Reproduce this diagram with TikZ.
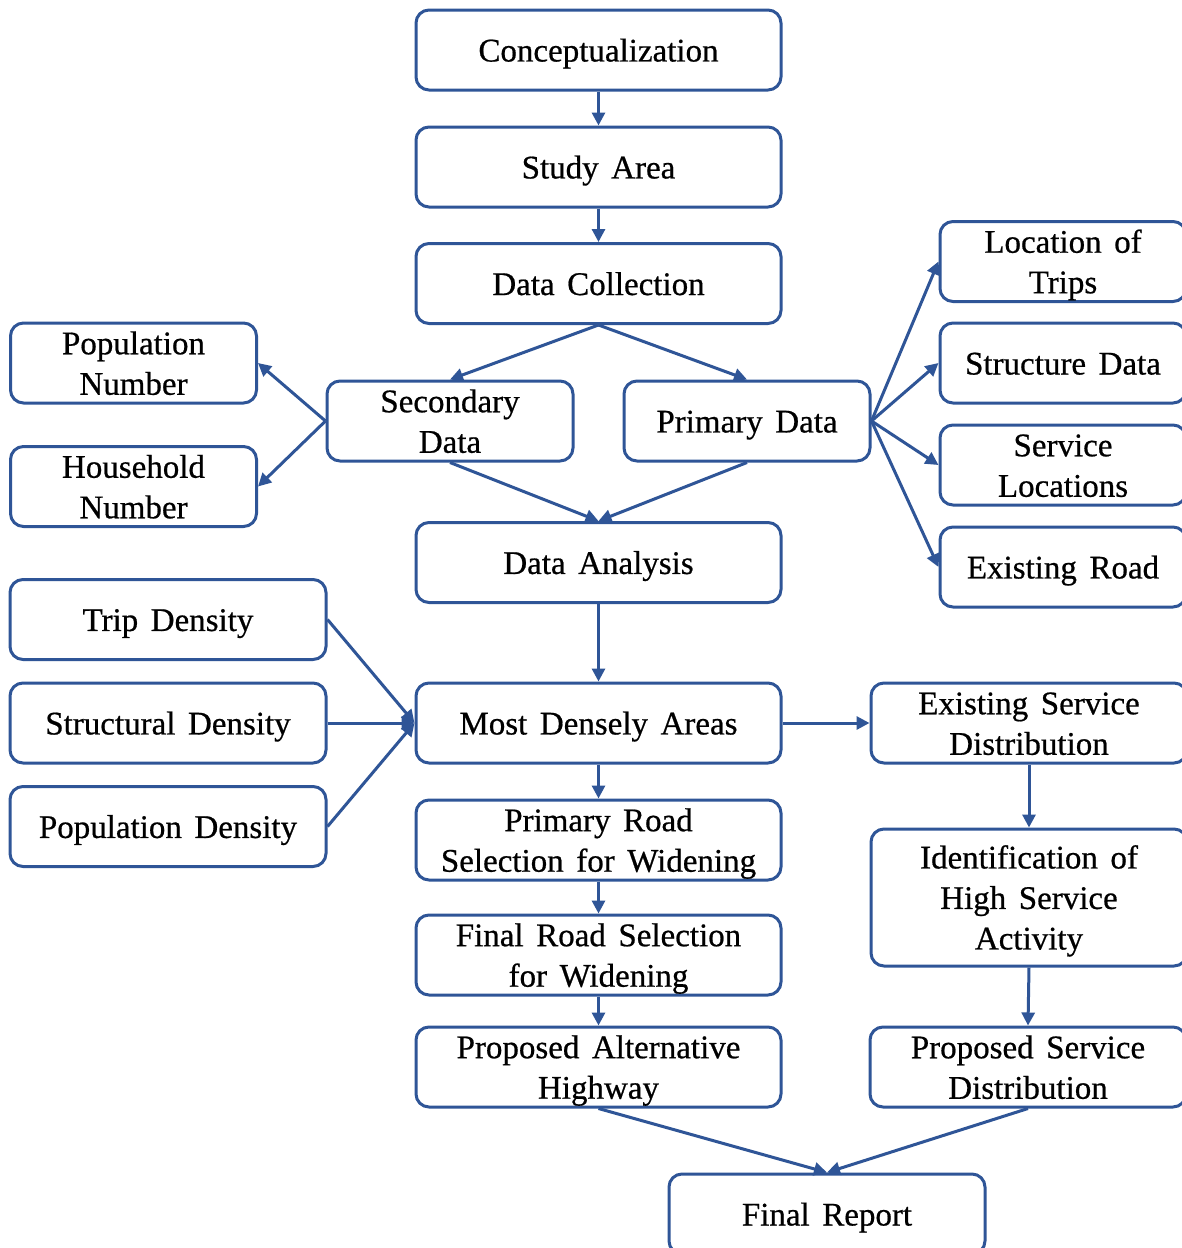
\documentclass[tikz,border=0pt]{standalone}
\usepackage{fontspec}
\newfontfamily\tnr{Liberation Serif}[FakeBold=0.6]
\usetikzlibrary{arrows.meta}
\definecolor{boxblue}{HTML}{2F5597}
\newcommand\diagfont{\tnr\fontsize{33}{40.5}\selectfont\spaceskip=0.38em plus 0.1em minus 0.05em\relax}
\newcommand\sr{\rule[-7pt]{0pt}{37pt}}
\begin{document}
\begin{tikzpicture}[x=1pt,y=-1pt,
  box/.style={draw=boxblue, line width=3pt, rectangle, rounded corners=13pt,
    inner sep=0pt, align=center, text=black, font=\diagfont},
  wide/.style={box, minimum width=365pt, minimum height=80pt},
  mid/.style={box, minimum width=316pt, minimum height=80pt},
  small/.style={box, minimum width=246pt, minimum height=80pt},
  conn/.style={draw=boxblue, line width=3pt, -{Triangle[length=13pt,width=13pt]}}]
\useasboundingbox[fill=white] (0,0) rectangle (1182,1248);
% central column
\node[wide] (conc) at (598.5,50) {\sr Conceptualization};
\node[wide] (study) at (598.5,167) {\sr Study Area};
\node[wide] (coll) at (598.5,283.5) {\sr Data Collection};
\node[small] (sec) at (450,421) {\sr Secondary\\\sr Data};
\node[small] (prim) at (747,421) {\sr Primary Data};
\node[wide] (anal) at (598.5,562.5) {\sr Data Analysis};
\node[wide] (dense) at (598.5,723) {\sr Most Densely Areas};
\node[wide] (proad) at (598.5,840) {\sr Primary Road\\\sr Selection for Widening};
\node[wide] (froad) at (598.5,955) {\sr Final Road Selection\\\sr for Widening};
\node[wide] (palt) at (598.5,1067) {\sr Proposed Alternative\\\sr Highway};
\node[mid] (final) at (827,1214) {\sr Final Report};
% left
\node[small] (popn) at (133.5,363) {\sr Population\\\sr Number};
\node[small] (hhn) at (133.5,486.5) {\sr Household\\\sr Number};
\node[mid] (trip) at (168,619.5) {\sr Trip Density};
\node[mid] (struc) at (168,723) {\sr Structural Density};
\node[mid] (popd) at (168,826.5) {\sr Population Density};
% right
\node[small] (loc) at (1063,261.5) {\sr Location of\\\sr Trips};
\node[small] (sdata) at (1063,363) {\sr Structure Data};
\node[small] (serv) at (1063,465) {\sr Service\\\sr Locations};
\node[small] (road) at (1063,567) {\sr Existing Road};
\node[mid] (esd) at (1029,723) {\sr Existing Service\\\sr Distribution};
\node[mid, minimum height=137pt] (ident) at (1029,897.5) {\sr Identification of\\\sr High Service\\\sr Activity};
\node[mid] (psd) at (1028,1067) {\sr Proposed Service\\\sr Distribution};
% connectors
\draw[conn] (conc) -- (study);
\draw[conn] (study) -- (coll);
\draw[conn] (coll.south) -- (sec.north);
\draw[conn] (coll.south) -- (prim.north);
\draw[conn] (sec.west) -- (popn.east);
\draw[conn] (sec.west) -- (hhn.east);
\draw[conn] (sec.south) -- (anal.north);
\draw[conn] (prim.south) -- (anal.north);
\draw[conn] (prim.east) -- (loc.west);
\draw[conn] (prim.east) -- (sdata.west);
\draw[conn] (prim.east) -- (serv.west);
\draw[conn] (prim.east) -- (road.west);
\draw[conn] (anal) -- (dense);
\draw[conn] (trip.east) -- (dense.west);
\draw[conn] (struc.east) -- (dense.west);
\draw[conn] (popd.east) -- (dense.west);
\draw[conn] (dense) -- (esd);
\draw[conn] (dense) -- (proad);
\draw[conn] (proad) -- (froad);
\draw[conn] (froad) -- (palt);
\draw[conn] (esd) -- (ident);
\draw[conn] (ident.south) -- (psd.north);
\draw[conn] (palt.south) -- (final.north);
\draw[conn] (psd.south) -- (final.north);
\end{tikzpicture}
\end{document}
